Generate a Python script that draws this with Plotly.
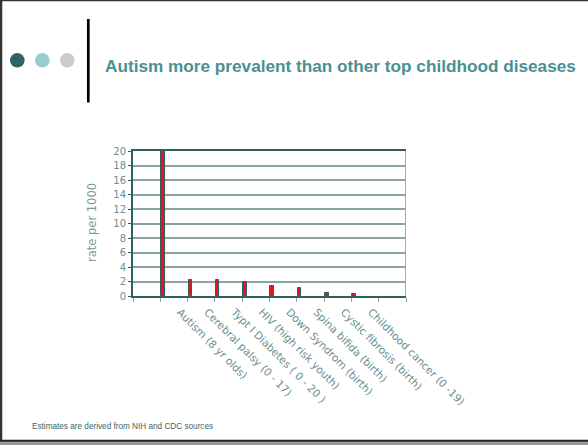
import numpy as np
import plotly.graph_objects as go

categories = ["Autism (8 yr olds)", "Cerebral palsy (0 - 17)", "Typt I Diabetes ( 0 - 20 )",
              "HIV (high risk youth)", "Down Syndrom (birth)", "Spina bifida (birth)",
              "Cystic fibrosis (birth)", "Childhood cancer (0 -19)"]
rates = [20.0, 2.2, 2.2, 2.0, 1.35, 1.05, 0.35, 0.3]
y_ticks = list(range(0, 21, 2))

W, H = 588, 445
L, R, T, B = 133, 406, 151, 296


def px(x):
    return (x - L) / (R - L)


def py(y):
    return (B - y) / (B - T)


idx = np.arange(len(categories))
bar_x = idx + 1.1
label_x = idx + 1.72

fig = go.Figure()
fig.add_trace(go.Bar(x=bar_x, y=rates, width=0.13,
                     marker=dict(color="#e8161c", line=dict(color="#2f5c5c", width=1)),
                     showlegend=False))
fig.add_trace(go.Scatter(x=label_x, y=[0] * len(label_x), xaxis="x2", mode="markers",
                         marker=dict(opacity=0), showlegend=False, hoverinfo="skip"))

tick_font = dict(family="DejaVu Sans", size=10, color="#6b8e8e")

fig.update_layout(
    width=W, height=H,
    margin=dict(l=L, r=W - R, t=T, b=H - B),
    paper_bgcolor="white", plot_bgcolor="white",
    bargap=0,
    xaxis=dict(range=[0, 10], tickmode="linear", tick0=0, dtick=1, showticklabels=False,
               ticks="outside", ticklen=4, tickcolor="#8aa3a3", showgrid=False,
               showline=True, linecolor="#2f5f5f", linewidth=2, mirror=True, zeroline=False),
    xaxis2=dict(range=[0, 10], overlaying="x", side="bottom", anchor="y",
                tickmode="array", tickvals=list(label_x), ticktext=categories,
                tickangle=45, tickfont=dict(family="DejaVu Sans", size=10.6, color="#6b8e8e"),
                ticklabelstandoff=7,
                showgrid=False, showline=False, zeroline=False, ticks=""),
    yaxis=dict(range=[0, 20], tickmode="array", tickvals=y_ticks, tickfont=tick_font,
               ticks="outside", ticklen=3, tickcolor="#2f5f5f", showgrid=True,
               gridcolor="#8aa3a3", gridwidth=1.5, showline=True, linecolor="#2f5f5f",
               linewidth=2, zeroline=False),
)

shapes = [
    dict(type="line", xref="x", yref="y", x0=10, x1=10, y0=0, y1=20,
         line=dict(color="#9ab0b0", width=2)),
    dict(type="circle", xref="paper", yref="paper", x0=px(10), x1=px(24.6), y0=py(53), y1=py(67.6),
         fillcolor="#2f6464", line=dict(width=0)),
    dict(type="circle", xref="paper", yref="paper", x0=px(35), x1=px(49.6), y0=py(53), y1=py(67.6),
         fillcolor="#99cccc", line=dict(width=0)),
    dict(type="circle", xref="paper", yref="paper", x0=px(60), x1=px(74.6), y0=py(53), y1=py(67.6),
         fillcolor="#cccccc", line=dict(width=0)),
    dict(type="line", xref="paper", yref="paper", x0=px(88.3), x1=px(88.3), y0=py(19), y1=py(102.5),
         line=dict(color="#000000", width=2.7)),
    dict(type="line", xref="paper", yref="paper", x0=px(1), x1=px(1), y0=py(0), y1=py(441),
         line=dict(color="#333333", width=2.5)),
    dict(type="line", xref="paper", yref="paper", x0=px(0), x1=px(588), y0=py(0.6), y1=py(0.6),
         line=dict(color="#333333", width=1.5)),
    dict(type="rect", xref="paper", yref="paper", x0=px(0), x1=px(588), y0=py(441.5), y1=py(445),
         fillcolor="#999999", line=dict(width=0)),
    dict(type="line", xref="paper", yref="paper", x0=px(0), x1=px(588), y0=py(440.8), y1=py(440.8),
         line=dict(color="#222222", width=2)),
]
fig.update_layout(shapes=shapes)

annotations = [
    dict(text="<b>Autism more prevalent than other top childhood diseases</b>",
         xref="paper", yref="paper", x=px(103), y=py(66), xanchor="left", yanchor="middle",
         showarrow=False, font=dict(family="Liberation Sans", size=17.2, color="#4a9090")),
    dict(text="rate per 1000", xref="paper", yref="paper", x=px(92), y=py(223),
         xanchor="center", yanchor="middle", textangle=-90, showarrow=False,
         font=dict(family="DejaVu Sans", size=11.5, color="#7a9999")),
    dict(text="Estimates are derived from NIH and CDC sources", xref="paper", yref="paper",
         x=px(30), y=py(426), xanchor="left", yanchor="middle", showarrow=False,
         font=dict(family="Liberation Sans", size=8.2, color="#3f6464")),
]
fig.update_layout(annotations=annotations)

fig.write_html("out.html")
